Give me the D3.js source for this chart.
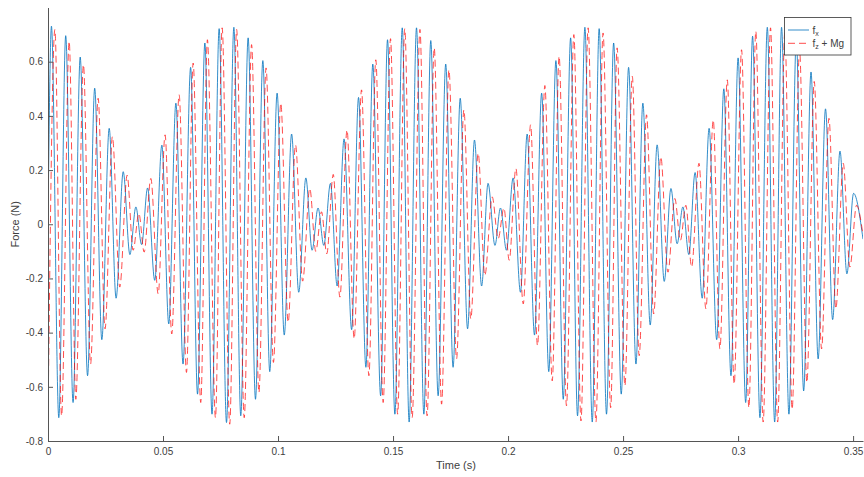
<!DOCTYPE html>
<html>
<head>
<meta charset="utf-8">
<script src="https://cdn.jsdelivr.net/npm/d3@7/dist/d3.min.js"></script>
<style>
  html, body { margin: 0; padding: 0; background: #ffffff; }
  svg { display: block; font-family: "Liberation Sans", Arial, Helvetica, sans-serif; }
</style>
</head>
<body>
<svg id="chart" width="864" height="477"></svg>
<script>
// Peak and trough samples of each force signal (time in ms, force in N)
const fxTimeMs = [0, 1.5, 4.7, 7.7, 10.9, 14.0, 17.2, 20.3, 23.4, 26.6, 29.6, 32.7, 35.6, 38.2, 40.7, 43.3, 46.4, 49.5, 52.5, 55.6, 58.7, 62.0, 65.0, 68.2, 71.3, 74.4, 77.6, 80.8, 83.8, 87.0, 90.2, 93.4, 96.4, 99.6, 102.7, 105.9, 109.0, 112.1, 114.8, 117.4, 119.9, 122.8, 125.7, 128.7, 132.0, 135.0, 138.2, 141.2, 144.6, 147.6, 150.8, 154.0, 157.0, 160.2, 163.4, 166.4, 169.6, 172.9, 176.1, 179.2, 182.4, 185.4, 188.5, 191.3, 194.3, 196.7, 199.3, 202.2, 205.4, 208.3, 211.5, 214.6, 217.7, 220.8, 224.0, 227.2, 230.2, 233.4, 236.6, 239.6, 242.8, 245.9, 249.2, 252.4, 255.6, 258.6, 261.8, 264.8, 267.9, 270.8, 273.5, 276.0, 278.6, 281.3, 284.4, 287.4, 290.7, 293.8, 296.9, 300.0, 303.3, 306.3, 309.5, 312.7, 315.9, 318.9, 322.1, 325.3, 328.5, 331.7, 334.8, 338.0, 341.1, 344.3, 347.3, 350.2, 354.3];
const fxForce = [0, 0.731, -0.714, 0.696, -0.658, 0.617, -0.559, 0.502, -0.426, 0.354, -0.273, 0.194, -0.112, 0.064, -0.075, 0.134, -0.207, 0.292, -0.368, 0.447, -0.516, 0.579, -0.627, 0.669, -0.701, 0.722, -0.732, 0.727, -0.707, 0.688, -0.646, 0.604, -0.544, 0.484, -0.409, 0.333, -0.251, 0.171, -0.096, 0.06, -0.078, 0.151, -0.228, 0.315, -0.389, 0.468, -0.528, 0.591, -0.633, 0.681, -0.701, 0.725, -0.73, 0.725, -0.701, 0.678, -0.633, 0.591, -0.528, 0.465, -0.386, 0.311, -0.228, 0.151, -0.078, 0.06, -0.096, 0.171, -0.251, 0.333, -0.409, 0.484, -0.544, 0.604, -0.646, 0.688, -0.707, 0.727, -0.73, 0.722, -0.701, 0.669, -0.627, 0.579, -0.516, 0.447, -0.372, 0.293, -0.211, 0.132, -0.072, 0.064, -0.112, 0.191, -0.273, 0.354, -0.426, 0.5, -0.559, 0.614, -0.658, 0.694, -0.714, 0.727, -0.73, 0.727, -0.701, 0.681, -0.615, 0.562, -0.497, 0.426, -0.352, 0.27, -0.183, 0.114, -0.055];

const fzTimeMs = [0, 3.0, 5.9, 9.2, 12.1, 15.4, 18.5, 21.8, 24.8, 28.0, 31.2, 34.4, 37.0, 39.5, 41.8, 44.7, 47.9, 50.9, 53.8, 57.0, 60.2, 63.1, 66.4, 69.3, 72.8, 75.7, 79.0, 82.0, 85.3, 88.5, 91.7, 94.8, 98.0, 101.2, 104.4, 107.6, 110.7, 113.8, 116.4, 118.9, 121.2, 124.0, 126.9, 130.0, 133.1, 136.3, 139.5, 142.5, 145.7, 148.9, 152.0, 155.1, 158.3, 161.7, 164.8, 167.9, 171.1, 174.3, 177.6, 180.8, 183.8, 187.0, 189.9, 193.1, 195.7, 198.2, 200.5, 203.4, 206.6, 209.8, 212.8, 216.0, 219.2, 222.2, 225.4, 228.6, 231.7, 234.8, 238.2, 241.3, 244.6, 247.4, 250.8, 254.0, 257.0, 260.2, 263.3, 266.4, 269.5, 272.5, 274.9, 277.3, 279.8, 283.0, 286.0, 289.2, 292.1, 295.3, 298.3, 301.5, 304.7, 307.7, 310.9, 314.1, 317.2, 320.3, 323.5, 326.7, 329.9, 333.1, 336.3, 339.5, 342.5, 345.7, 348.6, 351.5, 354.3];
const fzForce = [-0.726, 0.719, -0.707, 0.675, -0.646, 0.589, -0.516, 0.465, -0.386, 0.323, -0.232, 0.181, -0.096, 0.04, -0.103, 0.169, -0.257, 0.33, -0.405, 0.478, -0.547, 0.595, -0.658, 0.681, -0.714, 0.725, -0.738, 0.719, -0.714, 0.663, -0.621, 0.577, -0.51, 0.447, -0.362, 0.293, -0.21, 0.132, -0.1, 0.046, -0.109, 0.184, -0.269, 0.348, -0.423, 0.496, -0.559, 0.607, -0.658, 0.685, -0.701, 0.722, -0.714, 0.719, -0.707, 0.651, -0.664, 0.57, -0.497, 0.422, -0.349, 0.262, -0.189, 0.101, -0.053, 0.06, -0.133, 0.206, -0.294, 0.367, -0.448, 0.512, -0.578, 0.62, -0.67, 0.70, -0.726, 0.725, -0.73, 0.706, -0.677, 0.651, -0.596, 0.546, -0.485, 0.404, -0.331, 0.249, -0.177, 0.095, -0.06, 0.07, -0.158, 0.225, -0.312, 0.385, -0.46, 0.533, -0.59, 0.644, -0.677, 0.712, -0.73, 0.725, -0.73, 0.707, -0.683, 0.644, -0.584, 0.527, -0.46, 0.391, -0.312, 0.225, -0.158, 0.07, -0.04];

// Axis ticks
const xTicks = [0, 0.05, 0.1, 0.15, 0.2, 0.25, 0.3, 0.35];
const xTickLabels = ["0", "0.05", "0.1", "0.15", "0.2", "0.25", "0.3", "0.35"];
const yTicks = [-0.8, -0.6, -0.4, -0.2, 0, 0.2, 0.4, 0.6];
const yTickLabels = ["-0.8", "-0.6", "-0.4", "-0.2", "0", "0.2", "0.4", "0.6"];

const seriesNames = ["f_x", "f_z + Mg"];

const svg = d3.select("#chart");
const plotLeft = 48, plotRight = 863, plotTop = 7.5, plotBottom = 441;
const textColor = "#404040";
const blue = "#0072BD", red = "#FF0000";

const x = d3.scaleLinear().domain([0, 0.3543]).range([plotLeft, plotRight]);
const y = d3.scaleLinear().domain([-0.8, 0.8]).range([plotBottom, plotTop]);

const toPoints = (times, vals) => times.map((t, i) => ({ t: t / 1000, f: vals[i] }));
const fx = toPoints(fxTimeMs, fxForce);
const fz = toPoints(fzTimeMs, fzForce);

svg.append("defs").append("clipPath").attr("id", "plotClip")
  .append("rect").attr("x", plotLeft).attr("y", plotTop)
  .attr("width", plotRight - plotLeft).attr("height", plotBottom - plotTop);

const line = d3.line().x(d => x(d.t)).y(d => y(d.f)).curve(d3.curveMonotoneX);

const plot = svg.append("g").attr("clip-path", "url(#plotClip)");
plot.append("path").datum(fx)
  .attr("fill", "none").attr("stroke", blue).attr("stroke-width", 1)
  .attr("stroke-opacity", 0.8)
  .attr("d", line);
plot.append("path").datum(fz)
  .attr("fill", "none").attr("stroke", red).attr("stroke-width", 1)
  .attr("stroke-dasharray", "7,4").attr("stroke-opacity", 0.7)
  .attr("d", line);

// Axes with inward ticks
const xAxis = d3.axisBottom(x).tickValues(xTicks)
  .tickFormat((d, i) => xTickLabels[i]).tickSizeInner(-5).tickSizeOuter(0).tickPadding(7);
const yAxis = d3.axisLeft(y).tickValues(yTicks)
  .tickFormat((d, i) => yTickLabels[i]).tickSizeInner(-5).tickSizeOuter(0).tickPadding(5);

const gx = svg.append("g").attr("transform", `translate(0,${plotBottom})`).call(xAxis);
const gy = svg.append("g").attr("transform", `translate(${plotLeft},0)`).call(yAxis);
[gx, gy].forEach(g => {
  g.select(".domain").attr("stroke", "#555555").attr("stroke-width", 1);
  g.selectAll(".tick line").attr("stroke", "#555555").attr("stroke-width", 1);
  g.selectAll(".tick text").attr("fill", textColor).attr("font-size", 10)
    .attr("font-family", "'Liberation Sans', Arial, Helvetica, sans-serif");
});

// Axis titles
svg.append("text").attr("x", (plotLeft + plotRight) / 2 + 0.5).attr("y", 469)
  .attr("text-anchor", "middle").attr("font-size", 11).attr("fill", textColor)
  .text("Time (s)");
svg.append("text").attr("transform", `translate(19,${(plotTop + plotBottom) / 2}) rotate(-90)`)
  .attr("text-anchor", "middle").attr("font-size", 11).attr("fill", textColor)
  .text("Force (N)");

// Legend
const legend = svg.append("g");
legend.append("rect").attr("x", 784.5).attr("y", 17.5).attr("width", 66.5).attr("height", 37.5)
  .attr("fill", "#ffffff").attr("stroke", "#333333").attr("stroke-width", 0.8);
const legendRows = [
  { y: 30, color: blue, dash: null, opacity: 0.8, base: "f", sub: "x", rest: "" },
  { y: 43.3, color: red, dash: "7,4", opacity: 0.7, base: "f", sub: "z", rest: " + Mg" }
];
legendRows.forEach((r, i) => {
  legend.append("line").attr("x1", 788).attr("x2", 809).attr("y1", r.y).attr("y2", r.y)
    .attr("stroke", r.color).attr("stroke-width", 1).attr("stroke-opacity", r.opacity)
    .attr("stroke-dasharray", r.dash);
  const t = legend.append("text").attr("x", 812.5).attr("y", r.y + 3.5)
    .attr("font-size", 10).attr("fill", textColor).attr("data-name", seriesNames[i]);
  t.append("tspan").text(r.base);
  t.append("tspan").attr("dy", 2.5).attr("font-size", 7).text(r.sub);
  if (r.rest) t.append("tspan").attr("dy", -2.5).text(r.rest);
});
</script>
</body>
</html>
